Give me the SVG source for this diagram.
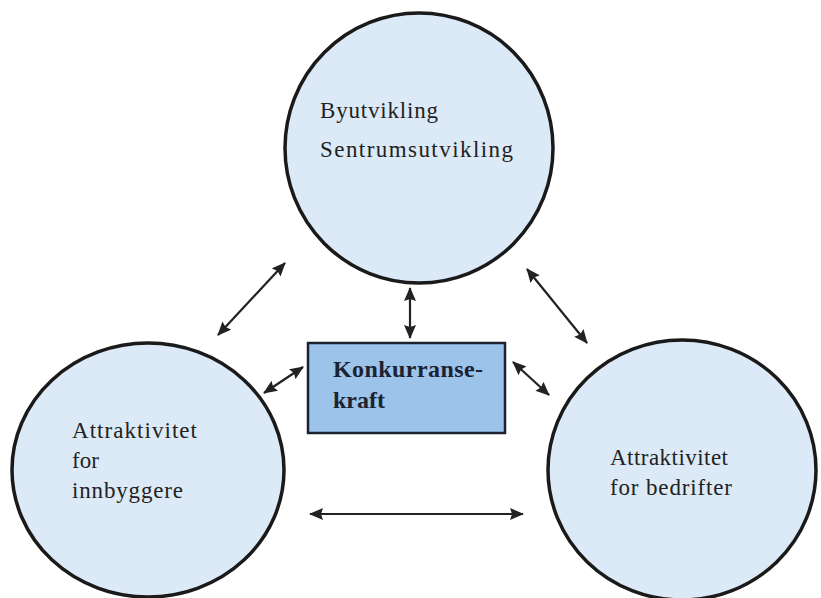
<svg xmlns="http://www.w3.org/2000/svg" width="821" height="598" viewBox="0 0 821 598">
<style>
.c{fill:#dce9f6;stroke:#1a1a1a;stroke-width:3.5}
.t{font-family:"Liberation Serif",serif;font-size:23px;fill:#222}
.b{font-family:"Liberation Serif",serif;font-size:24px;font-weight:bold;fill:#1c2230}
.a{stroke:#222;stroke-width:2.2;fill:none;marker-start:url(#h);marker-end:url(#h)}
</style>
<defs>
<marker id="h" viewBox="0 0 14 12" refX="13" refY="6" markerWidth="14" markerHeight="12" markerUnits="userSpaceOnUse" orient="auto-start-reverse">
<path d="M0,0 L14,6 L0,12 L2,6 Z" fill="#222"/>
</marker>
</defs>
<rect width="821" height="598" fill="#fff"/>
<g id="node-top">
<ellipse class="c" cx="419" cy="148" rx="134" ry="135"/>
<text class="t" x="320" y="118" textLength="118" lengthAdjust="spacing">Byutvikling</text>
<text class="t" x="320" y="157" textLength="193" lengthAdjust="spacing">Sentrumsutvikling</text>
</g>
<g id="node-left">
<ellipse class="c" cx="148" cy="470" rx="136" ry="127"/>
<text class="t" x="72" y="438" textLength="125" lengthAdjust="spacing">Attraktivitet</text>
<text class="t" x="72" y="468">for</text>
<text class="t" x="72" y="498" textLength="111" lengthAdjust="spacing">innbyggere</text>
</g>
<g id="node-right">
<ellipse class="c" cx="682" cy="470" rx="134" ry="130"/>
<text class="t" x="610" y="465" textLength="118" lengthAdjust="spacing">Attraktivitet</text>
<text class="t" x="610" y="495" textLength="122" lengthAdjust="spacing">for bedrifter</text>
</g>
<g id="node-center">
<rect x="308" y="343" width="197" height="90" fill="#9cc3ea" stroke="#1c2230" stroke-width="2.5"/>
<text class="b" x="333" y="377" textLength="150" lengthAdjust="spacing">Konkurranse-</text>
<text class="b" x="333" y="408">kraft</text>
</g>
<g id="connectors">
<line class="a" x1="218" y1="335" x2="285" y2="263"/>
<line class="a" x1="527" y1="269" x2="587" y2="343"/>
<line class="a" x1="410" y1="288" x2="410" y2="338"/>
<line class="a" x1="264" y1="393" x2="303" y2="367"/>
<line class="a" x1="513" y1="362" x2="549" y2="395"/>
<line class="a" x1="310" y1="514" x2="523" y2="514"/>
</g>
</svg>
